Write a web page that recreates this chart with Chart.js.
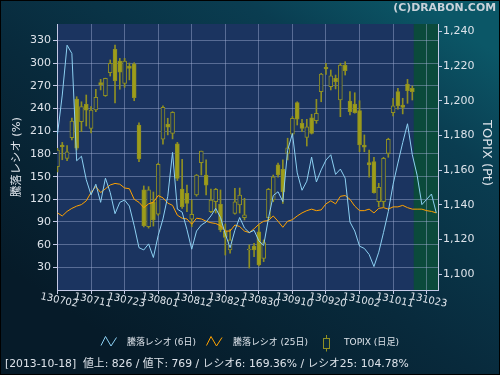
<!DOCTYPE html>
<html>
<head>
<meta charset="utf-8">
<script src="https://cdn.jsdelivr.net/npm/chart.js@4.4.1/dist/chart.umd.min.js"></script>
<style>
html, body { margin: 0; padding: 0; background: #071e2c; }
canvas { display: block; }
</style>
</head>
<body>
<canvas id="chart" width="500" height="375"></canvas>
<script>
// ===== Data (trading day index from 2013-07-02) =====
const tickDays = [0, 7, 14, 21, 28, 35, 42, 49, 56, 63, 70, 77];
const tickLabels = ['130702', '130711', '130723', '130801', '130812', '130821',
                    '130830', '130910', '130920', '131002', '131011', '131023'];
const ratioTicks = [30, 60, 90, 120, 150, 180, 210, 240, 270, 300, 330];
const topixTicks = [1100, 1120, 1140, 1160, 1180, 1200, 1220, 1240];

// TOPIX daily candles
const topixOpen = [1162, 1174.5, 1166.8, 1178.7, 1201, 1188, 1197.9, 1184.1, 1194.7, 1210.4,
  1202.9, 1216.1, 1229.6, 1222.9, 1210, 1220, 1221.2, 1186, 1148.6, 1127.4,
  1141.6, 1134.6, 1177.8, 1186.6, 1181.2, 1175.1, 1149.1, 1146.7, 1131.7, 1145.7,
  1164.3, 1157.2, 1136.1, 1141.8, 1140.3, 1124.9, 1114, 1135.1, 1139.9, 1132.6,
  1114, 1116.3, 1124.5, 1109.2, 1132.6, 1142.8, 1163, 1160.5, 1169.7, 1180.8,
  1198.9, 1187, 1178.9, 1190.2, 1188.5, 1205.2, 1219.3, 1208.1, 1212.9, 1200.4,
  1220.6, 1199.8, 1198.1, 1194.3, 1174.5, 1164.3, 1164.9, 1141.8, 1141.8, 1169.7,
  1193.1, 1205.2, 1197.5, 1209.6, 1207.2];
const topixHigh = [1172.5, 1176, 1174.2, 1190, 1202.3, 1199.4, 1203.3, 1196.6, 1206.6, 1212.3,
  1213, 1223.5, 1232.1, 1224.4, 1224.4, 1221.7, 1221.9, 1187.3, 1150.9, 1150.5,
  1147.4, 1164, 1197, 1189.9, 1193.7, 1176, 1166.3, 1151.4, 1142.8, 1157.5,
  1171, 1165.9, 1149.1, 1149.5, 1148.6, 1129, 1125.9, 1149.5, 1149.7, 1143.8,
  1116.9, 1117.9, 1128.4, 1119.8, 1149.5, 1157.2, 1164.1, 1165.9, 1178.4, 1190.9,
  1199.4, 1189.3, 1189.3, 1192.2, 1200.8, 1215.8, 1221.6, 1217.7, 1214.8, 1221.6,
  1222.5, 1205.2, 1204.6, 1200, 1180.3, 1171.6, 1167.4, 1152.4, 1167.4, 1178.4,
  1201.4, 1207.2, 1201.4, 1212.3, 1208.5];
const topixLow = [1159, 1166, 1165.5, 1177.4, 1171.6, 1182.2, 1185.4, 1181.4, 1193.7, 1206.2,
  1202.5, 1214.2, 1198.7, 1206.6, 1207.7, 1212, 1200, 1164.9, 1127.3, 1126.6,
  1127.8, 1134, 1175, 1180.3, 1178, 1154, 1138, 1136.1, 1127.4, 1145,
  1157.2, 1145.7, 1135.5, 1135.3, 1124.5, 1111.1, 1112.1, 1134.6, 1135.3, 1131.3,
  1103.6, 1110.1, 1104.8, 1107.3, 1131.3, 1141.8, 1156, 1140.9, 1165.9, 1180,
  1186, 1182.2, 1173.9, 1180.8, 1187, 1199.4, 1215.2, 1206.2, 1206.8, 1190.8,
  1214.8, 1191.8, 1192.8, 1170.6, 1170.6, 1155.9, 1146.7, 1138.9, 1138.9, 1167.4,
  1191.2, 1195.1, 1192.4, 1198.5, 1200.4];
const topixClose = [1171.6, 1173.5, 1170.6, 1188.3, 1172.6, 1196.6, 1194.6, 1194.6, 1202, 1209.1,
  1212.9, 1221.6, 1211.5, 1216.4, 1222.9, 1218.6, 1201.7, 1166.4, 1128, 1148.6,
  1131.3, 1163.4, 1196.2, 1184.7, 1193.3, 1155.3, 1138.9, 1140.9, 1134.6, 1157.2,
  1171, 1151.4, 1142.8, 1149, 1125.5, 1121.3, 1119.8, 1141.8, 1145.7, 1134.2,
  1114.3, 1114, 1105.4, 1118.2, 1149, 1156.2, 1157.2, 1147.6, 1172.9, 1189.9,
  1189.3, 1184.1, 1185, 1181.2, 1192.8, 1215.4, 1218.3, 1214.4, 1211, 1220.6,
  1217.3, 1193.7, 1193.1, 1174.5, 1173.2, 1163, 1147, 1150.1, 1166.8, 1177.8,
  1197, 1197, 1196.2, 1205.8, 1205.2];

// 騰落レシオ (%)
const ratio6 = [206, 258, 324, 313, 171, 177, 146, 126, 140, 116,
  148, 129, 101, 116, 119, 111, 85, 56, 53, 61,
  43, 72, 94, 124, 182, 107, 103, 80, 54, 78,
  86, 90, 98, 108, 96, 74, 56, 79, 96, 82,
  76, 79, 65, 59, 95, 125, 130, 117, 185, 207,
  155, 132, 144, 176, 143, 159, 172, 179, 153, 160,
  148, 90, 78, 58, 55, 47, 31, 50, 76, 104,
  140, 168, 195, 220, 179, 152, 113, 120, 127, 102];
const ratio25 = [102, 98, 104, 108, 111, 113, 118, 129, 137, 129,
  134, 139, 141, 140, 135, 134, 120, 116, 109, 114,
  116, 125, 122, 115, 112, 99, 95, 94, 87, 95,
  94, 91, 89, 88, 85, 78, 78, 86, 84, 78,
  76, 81, 87, 91, 92, 98, 91, 83, 91, 93,
  98, 102, 105, 107, 105, 106, 114, 118, 114, 124,
  125, 120, 111, 105, 105, 107, 102, 108, 109, 107,
  110, 110, 112, 109, 107, 107, 107, 105, 104, 102];

const futureFrom = 74.3;   // shaded area after the last session
const footerText = '[2013-10-18]  値上: 826 / 値下: 769 / レシオ6: 169.36% / レシオ25: 104.78%';

// ===== Colours =====
const PLOT_BG = '#1b3460';
const FUTURE_BG = '#0b4a3b';
const GRID = 'rgba(165,178,215,0.45)';
const AXIS = '#c4c8e4';
const TEXT = '#dde3ea';
const OLIVE = '#9d9d1a';
const OLIVE_LINE = '#8f8f22';
const BLUE = '#8cd0f2';
const ORANGE = '#ffa200';
const FONT = "'DejaVu Sans', 'Noto Sans CJK JP', sans-serif";

// ===== Datasets built from the arrays =====
const wickData = topixHigh.map((h, i) => ({ x: i, y: [topixLow[i], h] }));
const bodyData = topixOpen.map((o, i) => ({ x: i, y: [o, topixClose[i]] }));
const bodyFill = topixOpen.map((o, i) => topixClose[i] < o ? OLIVE : PLOT_BG);
const line6 = ratio6.map((v, i) => ({ x: i, y: v }));
const line25 = ratio25.map((v, i) => ({ x: i, y: v }));

// scale text to a given width
function fitFont(ctx, text, weight, size, target) {
    ctx.font = weight + size + 'px ' + FONT;
    const w = ctx.measureText(text).width;
    const s = size * target / w;
    ctx.font = weight + s.toFixed(2) + 'px ' + FONT;
}

const decor = {
    id: 'decor',
    beforeDraw(chart) {
        const ctx = chart.ctx, a = chart.chartArea, xs = chart.scales.x;
        ctx.save();
        const g = ctx.createLinearGradient(420, 0, 160, 375);
        g.addColorStop(0, '#0b5767');
        g.addColorStop(0.22, '#0a3d51');
        g.addColorStop(0.6, '#082a3c');
        g.addColorStop(1, '#061b29');
        ctx.fillStyle = g;
        ctx.fillRect(0, 0, chart.width, chart.height);
        ctx.strokeStyle = '#000';
        ctx.lineWidth = 1;
        ctx.strokeRect(0.5, 0.5, chart.width - 1, chart.height - 1);

        ctx.fillStyle = PLOT_BG;
        ctx.fillRect(a.left, a.top, a.right - a.left, a.bottom - a.top);
        const fx = xs.getPixelForValue(futureFrom);
        ctx.fillStyle = FUTURE_BG;
        ctx.fillRect(fx, a.top, a.right - fx, a.bottom - a.top);
        ctx.restore();
    },
    afterDraw(chart) {
        const ctx = chart.ctx, xs = chart.scales.x, a = chart.chartArea;
        ctx.save();
        ctx.fillStyle = TEXT;

        // x tick labels, slanted down to the right
        ctx.font = '10px ' + FONT;
        ctx.textAlign = 'left';
        ctx.textBaseline = 'alphabetic';
        tickDays.forEach((d, k) => {
            const x = xs.getPixelForValue(d);
            ctx.save();
            ctx.translate(x - 17.5, a.bottom + 9);
            ctx.rotate(12 * Math.PI / 180);
            ctx.fillText(tickLabels[k], 0, 0);
            ctx.restore();
        });

        ctx.textBaseline = 'middle';
        // axis titles
        ctx.save();
        ctx.translate(17, 157);
        ctx.rotate(-Math.PI / 2);
        ctx.textAlign = 'center';
        fitFont(ctx, '騰落レシオ (%)', '', 13, 80);
        ctx.fillText('騰落レシオ (%)', 0, 0);
        ctx.restore();

        ctx.save();
        ctx.translate(486, 153);
        ctx.rotate(Math.PI / 2);
        ctx.textAlign = 'center';
        fitFont(ctx, 'TOPIX (Pt)', '', 13, 66);
        ctx.fillText('TOPIX (Pt)', 0, 0);
        ctx.restore();

        // legend
        ctx.lineWidth = 1;
        [[101, BLUE], [206.5, ORANGE]].forEach(([lx, c]) => {
            ctx.strokeStyle = c;
            ctx.beginPath();
            ctx.moveTo(lx, 345.5);
            ctx.lineTo(lx + 4.5, 336.5);
            ctx.lineTo(lx + 10, 346);
            ctx.lineTo(lx + 15.5, 337.5);
            ctx.stroke();
        });
        ctx.strokeStyle = OLIVE_LINE;
        ctx.beginPath();
        ctx.moveTo(326.5, 335);
        ctx.lineTo(326.5, 351.5);
        ctx.stroke();
        ctx.fillStyle = '#0a2a3c';
        ctx.fillRect(323.5, 338.5, 6, 10);
        ctx.strokeRect(323.5, 338.5, 6, 10);

        ctx.fillStyle = TEXT;
        ctx.textAlign = 'left';
        fitFont(ctx, '騰落レシオ (6日)', '', 10, 69);
        ctx.fillText('騰落レシオ (6日)', 127, 343);
        fitFont(ctx, '騰落レシオ (25日)', '', 10, 75);
        ctx.fillText('騰落レシオ (25日)', 233, 343);
        fitFont(ctx, 'TOPIX (日足)', '', 10, 55);
        ctx.fillText('TOPIX (日足)', 344, 343);

        // footer
        fitFont(ctx, footerText, '', 12, 404);
        ctx.fillText(footerText, 5, 364);

        // copyright
        ctx.fillStyle = '#c9d2da';
        ctx.textAlign = 'right';
        fitFont(ctx, '(C)DRABON.COM', 'bold ', 12, 103);
        ctx.fillText('(C)DRABON.COM', 496, 8);
        ctx.restore();
    }
};

Chart.defaults.font.family = FONT;

new Chart(document.getElementById('chart'), {
    type: 'bar',
    data: {
        datasets: [
            { type: 'line', label: '騰落レシオ (6日)', data: line6, yAxisID: 'y',
              borderColor: BLUE, borderWidth: 1, pointRadius: 0, tension: 0, order: 0 },
            { type: 'line', label: '騰落レシオ (25日)', data: line25, yAxisID: 'y',
              borderColor: ORANGE, borderWidth: 1, pointRadius: 0, tension: 0, order: 1 },
            { type: 'bar', label: 'TOPIX body', data: bodyData, yAxisID: 'y1',
              backgroundColor: bodyFill, borderColor: OLIVE_LINE, borderWidth: 1,
              borderSkipped: false, barThickness: 4, minBarLength: 1, grouped: false, order: 2 },
            { type: 'bar', label: 'TOPIX wick', data: wickData, yAxisID: 'y1',
              backgroundColor: OLIVE_LINE, borderWidth: 0,
              barThickness: 1, grouped: false, order: 3 }
        ]
    },
    options: {
        responsive: false,
        animation: false,
        events: [],
        layout: { padding: { top: 24, left: 0, right: 0, bottom: 0 } },
        plugins: { legend: { display: false }, tooltip: { enabled: false } },
        scales: {
            x: {
                type: 'linear', min: -0.1, max: 79.36, offset: false,
                afterBuildTicks: s => { s.ticks = tickDays.map(v => ({ value: v })); },
                afterFit: s => { s.height = 85; },
                ticks: { display: false },
                grid: { color: GRID, offset: false, tickColor: AXIS, tickLength: 4 },
                border: { color: AXIS }
            },
            y: {
                position: 'left', min: 0, max: 352,
                afterBuildTicks: s => { s.ticks = ratioTicks.map(v => ({ value: v })); },
                afterFit: s => { s.width = 57; },
                ticks: { color: TEXT, font: { size: 11 }, padding: 2 },
                grid: { color: GRID, tickColor: AXIS, tickLength: 4 },
                border: { color: AXIS }
            },
            y1: {
                position: 'right', min: 1090.95, max: 1244.2,
                afterBuildTicks: s => { s.ticks = topixTicks.map(v => ({ value: v })); },
                afterFit: s => { s.width = 62; },
                ticks: { color: TEXT, font: { size: 11 }, padding: 1,
                         callback: v => v.toLocaleString('en-US') },
                grid: { drawOnChartArea: false, tickColor: AXIS, tickLength: 4 },
                border: { color: AXIS }
            }
        }
    },
    plugins: [decor]
});
</script>
</body>
</html>
